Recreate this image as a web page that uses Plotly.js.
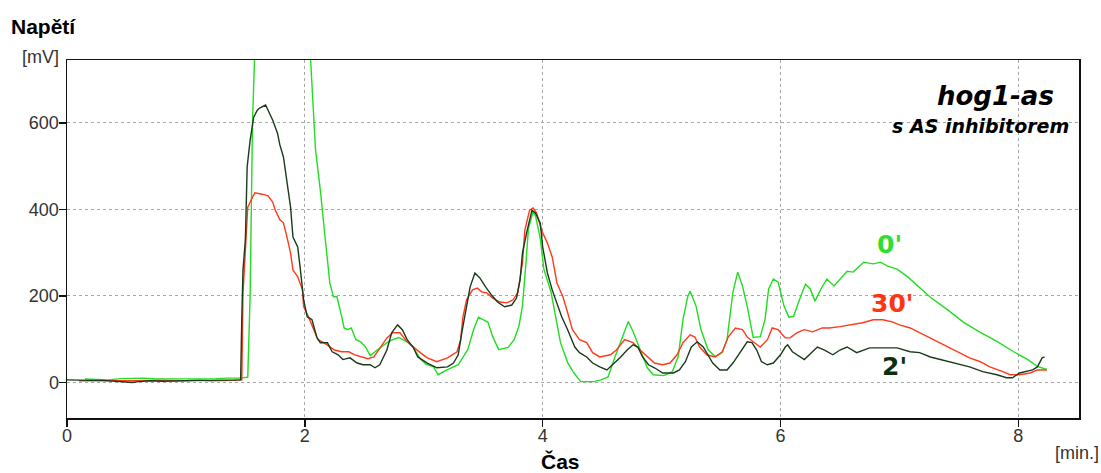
<!DOCTYPE html>
<html><head><meta charset="utf-8">
<script src="https://cdn.plot.ly/plotly-3.0.1.min.js"></script>
<style>html,body{margin:0;padding:0;background:#fff}#chart{width:1101px;height:473px}</style>
</head><body><div id="chart"></div>
<script>
// Series "0'" (green)
const timeGreen = [0.15,0.25,0.35,0.45,0.55,0.65,0.75,0.85,0.95,1.05,1.15,1.25,1.35,1.45,1.52,1.54,1.56,1.575,1.6,1.8,2.0,2.04,2.05,2.09,2.13,2.17,2.21,2.24,2.27,2.31,2.33,2.36,2.39,2.43,2.47,2.51,2.55,2.59,2.64,2.69,2.74,2.79,2.86,2.91,2.97,3.02,3.08,3.12,3.20,3.29,3.37,3.42,3.46,3.54,3.58,3.63,3.71,3.76,3.80,3.83,3.86,3.88,3.92,3.94,3.98,4.01,4.07,4.11,4.15,4.21,4.26,4.32,4.43,4.49,4.55,4.60,4.66,4.72,4.76,4.82,4.88,4.93,5.02,5.09,5.14,5.18,5.22,5.24,5.29,5.33,5.39,5.45,5.51,5.55,5.60,5.64,5.68,5.72,5.77,5.83,5.87,5.90,5.94,5.98,6.03,6.07,6.11,6.17,6.21,6.25,6.29,6.34,6.39,6.45,6.50,6.56,6.61,6.67,6.70,6.78,6.84,6.90,6.98,7.07,7.12,7.19,7.26,7.40,7.54,7.68,7.82,7.96,8.08,8.16,8.24];
const voltGreen = [8,7,6,9,9,10,8,8,9,8,9,9,10,10,12,200,600,800,950,1050,900,780,738,537,445,336,230,198,198,152,126,122,126,99,94,82,62,71,82,92,99,104,94,82,55,42,37,18,30,41,76,123,151,139,106,76,81,99,130,176,278,355,395,385,332,262,209,146,92,46,23,2,2,6,13,53,99,141,118,76,34,18,16,25,60,146,199,211,176,123,76,60,69,99,209,255,223,176,104,106,146,216,239,232,176,151,153,199,227,216,188,216,239,223,239,257,255,269,278,274,278,269,262,244,232,216,197,169,139,116,95,71,53,37,30];

// Series "2'" (dark green)
const timeDark = [0,0.1,0.2,0.3,0.4,0.5,0.55,0.6,0.7,0.8,0.9,1.0,1.1,1.2,1.3,1.4,1.46,1.47,1.48,1.50,1.515,1.54,1.57,1.60,1.62,1.67,1.69,1.73,1.77,1.79,1.82,1.85,1.88,1.90,1.94,1.96,1.99,2.02,2.06,2.10,2.13,2.19,2.23,2.28,2.32,2.38,2.44,2.49,2.55,2.59,2.63,2.69,2.73,2.78,2.82,2.86,2.91,2.95,3.03,3.11,3.20,3.25,3.29,3.32,3.35,3.39,3.43,3.47,3.52,3.57,3.62,3.68,3.74,3.78,3.81,3.83,3.87,3.91,3.94,3.98,4.00,4.04,4.08,4.12,4.16,4.21,4.27,4.31,4.37,4.42,4.48,4.54,4.59,4.65,4.71,4.76,4.80,4.84,4.89,4.94,5.01,5.10,5.15,5.20,5.25,5.30,5.35,5.39,5.43,5.49,5.55,5.60,5.66,5.72,5.76,5.80,5.84,5.89,5.94,6.00,6.04,6.06,6.10,6.16,6.20,6.26,6.31,6.37,6.44,6.50,6.56,6.64,6.75,6.86,6.98,7.09,7.17,7.26,7.36,7.48,7.59,7.70,7.82,7.90,7.95,8.01,8.07,8.12,8.16,8.20,8.22];
const voltDark = [6,5,5,5,3,1,0,2,4,3,4,5,5,5,5,5,6,150,260,330,498,560,613,629,634,641,629,606,576,549,521,468,405,336,313,267,191,152,145,105,92,92,71,64,53,57,45,41,41,34,41,75,115,133,122,99,82,59,45,34,36,45,64,115,163,221,253,242,221,202,186,175,179,195,237,299,352,398,391,368,313,253,214,184,152,122,82,69,59,45,36,29,41,57,75,87,82,59,41,34,22,22,29,48,82,94,82,64,45,29,29,45,69,94,92,75,48,41,45,64,82,87,71,59,53,69,82,75,64,75,82,69,80,80,80,71,69,59,52,45,36,25,18,11,11,22,25,29,36,57,59];

// Series "30'" (red)
const timeRed = [0.1,0.2,0.3,0.4,0.5,0.6,0.7,0.8,0.9,1.0,1.1,1.2,1.3,1.4,1.47,1.48,1.50,1.52,1.56,1.58,1.64,1.69,1.73,1.75,1.79,1.82,1.85,1.88,1.90,1.94,1.98,1.99,2.03,2.07,2.11,2.16,2.21,2.25,2.31,2.37,2.42,2.48,2.53,2.58,2.63,2.69,2.74,2.80,2.86,2.91,2.97,3.03,3.11,3.20,3.28,3.31,3.33,3.36,3.41,3.45,3.49,3.53,3.58,3.64,3.70,3.75,3.79,3.83,3.85,3.89,3.92,3.95,3.99,4.04,4.08,4.12,4.17,4.21,4.25,4.31,4.37,4.42,4.48,4.57,4.62,4.69,4.76,4.82,4.88,4.94,5.01,5.07,5.13,5.18,5.24,5.28,5.32,5.38,5.45,5.51,5.56,5.62,5.68,5.72,5.77,5.83,5.89,5.93,5.98,6.04,6.08,6.14,6.20,6.27,6.35,6.41,6.50,6.58,6.69,6.78,6.86,6.94,7.00,7.09,7.17,7.26,7.34,7.42,7.51,7.59,7.68,7.76,7.87,7.93,8.01,8.10,8.16,8.24];
const voltRed = [4,4,4,4,3,4,5,4,4,4,5,4,4,5,6,207,306,405,428,438,435,431,417,399,376,369,336,299,260,244,214,175,152,126,99,92,82,75,71,71,64,60,55,59,80,103,115,115,94,82,69,57,48,57,71,99,152,191,214,218,209,207,195,186,184,191,207,276,352,398,403,391,352,322,290,230,198,161,122,99,92,69,59,64,75,99,92,75,59,45,41,45,64,92,110,105,82,64,59,71,105,126,122,105,94,82,99,126,122,103,103,115,122,117,126,126,129,133,138,145,145,140,133,126,115,103,92,80,69,57,48,36,25,18,18,22,29,29];

const xTickVals = [0,2,4,6,8];
const yTickVals = [0,200,400,600];
const seriesNames = ["0'", "2'", "30'"];

const F = 'Liberation Sans, Arial, sans-serif';
const FB = 'DejaVu Sans, Verdana, sans-serif';
const lw = 1.4;
const traces = [
  {x: timeGreen, y: voltGreen, name: seriesNames[0], mode: 'lines', line: {color: '#22dd22', width: lw}},
  {x: timeRed, y: voltRed, name: seriesNames[2], mode: 'lines', line: {color: '#ff3a1c', width: lw}},
  {x: timeDark, y: voltDark, name: seriesNames[1], mode: 'lines', line: {color: '#1b3a1b', width: lw}}
];
const axisCommon = {
  showline: true, mirror: true, linecolor: '#111', linewidth: 1.5,
  ticks: 'outside', ticklen: 7, tickcolor: '#111', tickwidth: 1.5,
  showgrid: true, gridcolor: '#a8a8a8', gridwidth: 1, griddash: '3px,3px',
  zeroline: false, tickfont: {family: F, size: 18, color: '#333'}
};
const layout = {
  width: 1101, height: 473,
  margin: {l: 66.7, r: 21.7, t: 60, b: 54.7},
  paper_bgcolor: '#fff', plot_bgcolor: '#fff',
  showlegend: false,
  xaxis: Object.assign({}, axisCommon, {range: [0, 8.51], tickvals: xTickVals, ticktext: xTickVals.map(String), ticklabelstandoff: -6}),
  yaxis: Object.assign({}, axisCommon, {range: [-82, 745], tickvals: yTickVals, ticktext: yTickVals.map(String), ticklabelstandoff: -4}),
  annotations: [
    {text: 'Napětí', xref: 'paper', yref: 'paper', x: -0.057, y: 1.093, xanchor: 'left', yanchor: 'middle', showarrow: false, font: {family: F, size: 21, weight: 'bold', color: '#000'}},
    {text: '[mV]', xref: 'paper', yref: 'paper', x: -0.0265, y: 1.008, xanchor: 'center', yanchor: 'middle', showarrow: false, font: {family: F, size: 18, color: '#333'}},
    {text: 'Čas', xref: 'paper', yref: 'paper', x: 0.4877, y: -0.122, xanchor: 'center', yanchor: 'middle', showarrow: false, font: {family: F, size: 21, weight: 'bold', color: '#000'}},
    {text: '[min.]', xref: 'paper', yref: 'paper', x: 0.998, y: -0.097, xanchor: 'center', yanchor: 'middle', showarrow: false, font: {family: F, size: 18, color: '#333'}},
    {text: 'hog1-as', xref: 'paper', yref: 'paper', x: 0.977, y: 0.9, xanchor: 'right', yanchor: 'middle', showarrow: false, font: {family: FB, size: 26, weight: 'bold', style: 'italic', color: '#000'}},
    {text: 's AS inhibitorem', xref: 'paper', yref: 'paper', x: 0.9925, y: 0.817, xanchor: 'right', yanchor: 'middle', showarrow: false, font: {family: FB, size: 19, weight: 'bold', style: 'italic', color: '#000'}},
    {text: "0'", xref: 'paper', yref: 'paper', x: 0.813, y: 0.486, xanchor: 'center', yanchor: 'middle', showarrow: false, font: {family: FB, size: 25, weight: 'bold', color: '#2ee02e'}},
    {text: "30'", xref: 'paper', yref: 'paper', x: 0.815, y: 0.319, xanchor: 'center', yanchor: 'middle', showarrow: false, font: {family: FB, size: 25, weight: 'bold', color: '#ff3510'}},
    {text: "2'", xref: 'paper', yref: 'paper', x: 0.818, y: 0.143, xanchor: 'center', yanchor: 'middle', showarrow: false, font: {family: FB, size: 25, weight: 'bold', color: '#0c300c'}}
  ]
};
Plotly.newPlot('chart', traces, layout, {displayModeBar: false, staticPlot: true});
</script>
</body></html>
